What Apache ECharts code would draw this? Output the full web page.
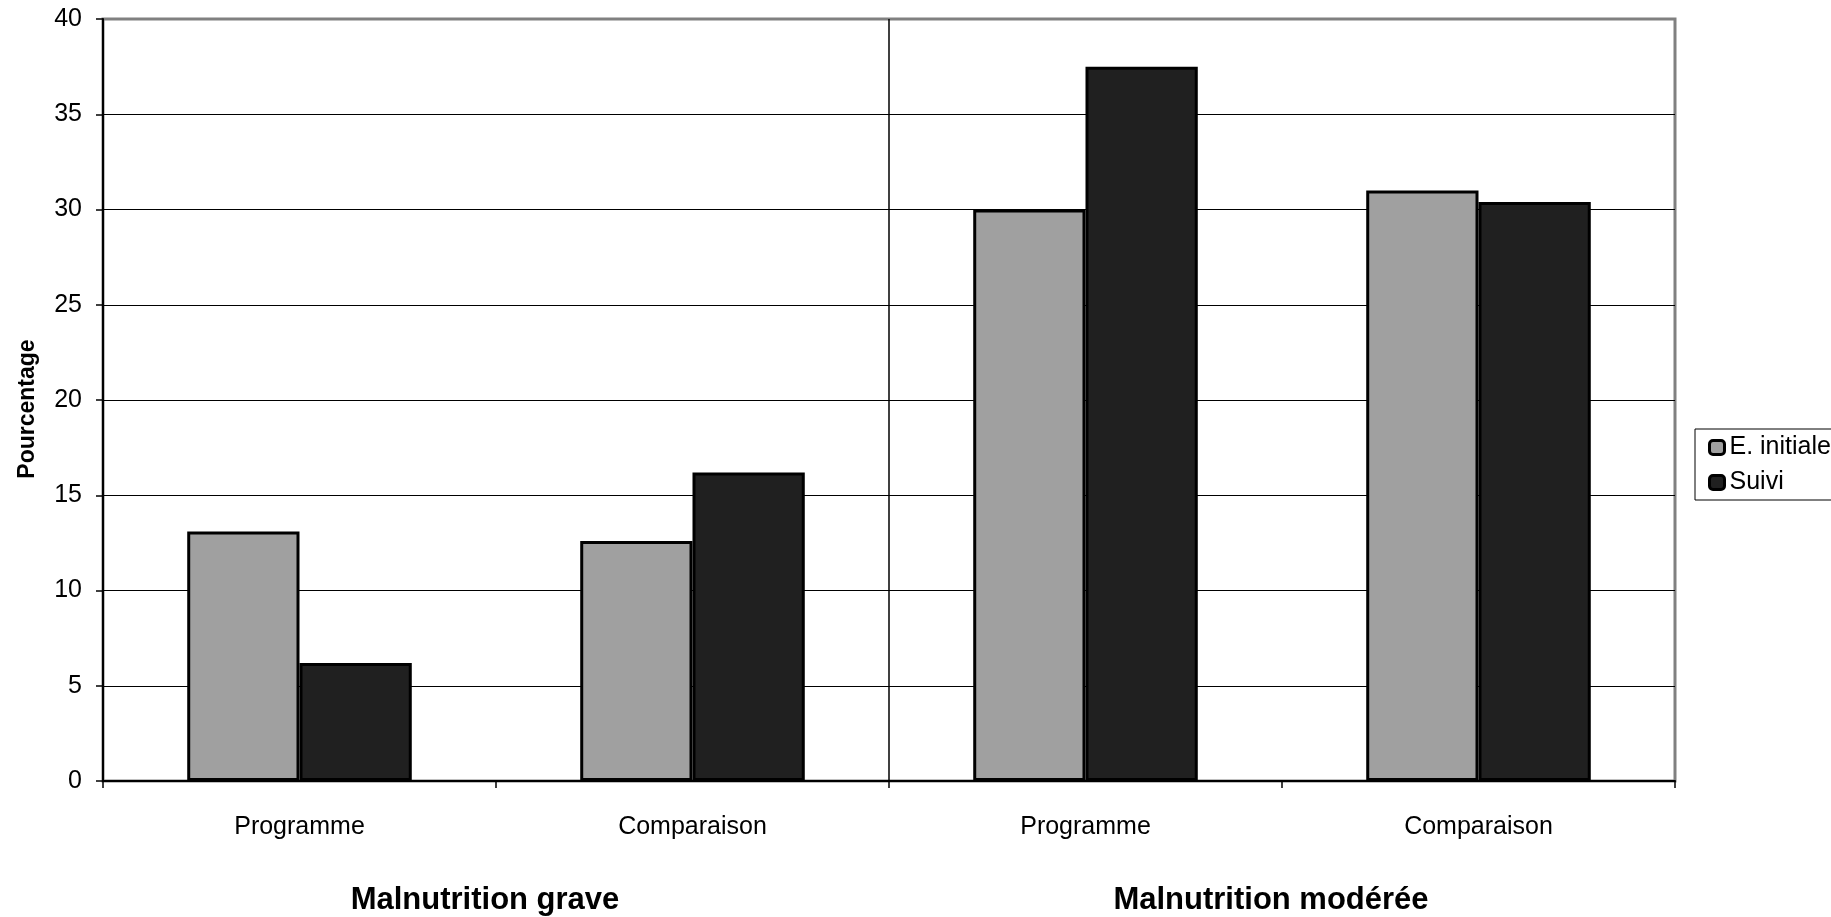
<!DOCTYPE html>
<html>
<head>
<meta charset="utf-8">
<script src="https://cdn.jsdelivr.net/npm/echarts@6/dist/echarts.min.js"></script>
<style>
html,body{margin:0;padding:0;background:#fff;}
#chart{width:1831px;height:917px;}
</style>
</head>
<body>
<div id="chart"></div>
<script>
var categories = ['Programme', 'Comparaison', 'Programme', 'Comparaison'];
var groups = ['Malnutrition grave', 'Malnutrition modérée'];
var seriesNames = ['E. initiale', 'Suivi'];
var initiale = [13.1, 12.6, 30.0, 31.0];
var suivi = [6.2, 16.2, 37.5, 30.4];
var yTicks = { min: 0, max: 40, interval: 5 };

var FONT = '"Liberation Sans", Arial, sans-serif';
var chart = echarts.init(document.getElementById('chart'), null, { renderer: 'canvas' });

chart.setOption({
  backgroundColor: '#fff',
  animation: false,
  textStyle: { fontFamily: FONT, color: '#000' },
  grid: {
    left: 103, top: 19, right: 156, bottom: 136,
    outerBoundsMode: 'none',
    containLabel: false,
    show: true, borderColor: '#808080', borderWidth: 3, backgroundColor: 'transparent'
  },
  legend: {
    orient: 'vertical',
    left: 1695, top: 429,
    padding: [6, 20, 5, 13],
    itemWidth: 15, itemHeight: 14, itemGap: 10,
    borderColor: '#000', borderWidth: 1,
    icon: 'roundRect',
    itemStyle: { borderColor: '#000', borderWidth: 3 },
    textStyle: { fontFamily: FONT, fontSize: 25, color: '#000' },
    data: seriesNames
  },
  xAxis: [{
    type: 'category',
    data: categories,
    position: 'bottom',
    axisLine: { show: true, lineStyle: { color: '#000', width: 2 } },
    axisTick: { show: true, length: 7, lineStyle: { color: '#000', width: 1.5 } },
    axisLabel: { fontFamily: FONT, fontSize: 25, color: '#000', margin: 34 },
    splitLine: { show: false }
  }, {
    type: 'category',
    data: groups,
    position: 'bottom',
    axisLine: { show: false },
    axisTick: { show: false },
    splitLine: {
      show: true, showMinLine: false, showMaxLine: false,
      lineStyle: { color: '#000', width: 1.5 }
    },
    axisLabel: {
      fontFamily: FONT, fontSize: 31, fontWeight: 'bold', color: '#000',
      margin: 104, padding: [0, 22, 0, 0]
    }
  }],
  yAxis: {
    type: 'value',
    min: yTicks.min, max: yTicks.max, interval: yTicks.interval,
    name: 'Pourcentage',
    nameLocation: 'middle',
    nameRotate: 90,
    nameGap: 64,
    nameTextStyle: { fontFamily: FONT, fontSize: 23, fontWeight: 'bold', color: '#000', padding: [0, 18, 0, 0] },
    axisLine: { show: true, lineStyle: { color: '#000', width: 2 } },
    axisTick: { show: true, length: 7, lineStyle: { color: '#000', width: 1.5 } },
    axisLabel: { fontFamily: FONT, fontSize: 25, color: '#000', margin: 21 },
    splitLine: { show: true, showMaxLine: false, lineStyle: { color: '#000', width: 1.2 } }
  },
  series: [{
    name: seriesNames[0],
    type: 'bar',
    data: initiale,
    barGap: '0%',
    barCategoryGap: '42.86%',
    itemStyle: { color: '#a0a0a0', borderColor: '#000', borderWidth: 3 }
  }, {
    name: seriesNames[1],
    type: 'bar',
    data: suivi,
    barGap: '0%',
    barCategoryGap: '42.86%',
    itemStyle: { color: '#202020', borderColor: '#000', borderWidth: 3 }
  }]
});
</script>
</body>
</html>
